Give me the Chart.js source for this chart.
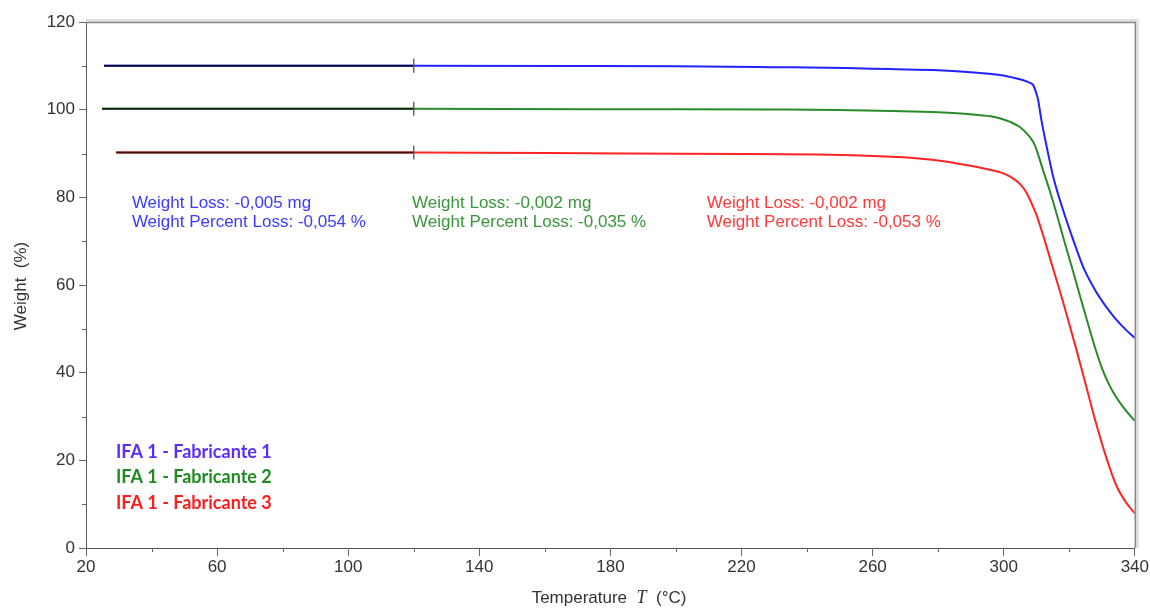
<!DOCTYPE html>
<html><head><meta charset="utf-8">
<script src="https://cdn.jsdelivr.net/npm/chart.js@4.4.1/dist/chart.umd.min.js"></script>
<style>html,body{margin:0;padding:0;background:#fff}</style>
</head><body>
<canvas id="c" width="1150" height="608"></canvas>
<script>
// ---- data ----
const tempBlue   = [25.5, 60, 120, 172, 200, 229, 252, 265, 280, 289, 299, 304, 306, 308, 309, 310, 310.5, 311.5, 313.1, 315.1, 318.1, 321.2, 324.2, 328, 331, 334, 337, 340];
const weightBlue = [110.0, 110.0, 110.0, 109.95, 109.9, 109.7, 109.5, 109.25, 109.0, 108.6, 107.9, 107.1, 106.7, 106.1, 105.6, 103.6, 102.2, 97.6, 91.6, 84.7, 77.1, 70.3, 64.2, 58.7, 55.3, 52.4, 50.0, 47.9];

const tempGreen   = [24.9, 60, 120, 174, 200, 230, 249.5, 266, 280, 289, 296, 299, 302, 305, 307, 309, 310, 312, 314, 316, 318, 320, 322, 324, 326, 328, 330, 332, 334, 336, 338, 340];
const weightGreen = [100.2, 100.2, 100.2, 100.1, 100.1, 100.05, 99.95, 99.7, 99.4, 99.0, 98.5, 98.0, 97.2, 96.0, 94.6, 92.6, 90.9, 86.2, 81.6, 76.6, 71.3, 66.1, 60.9, 55.6, 50.4, 45.4, 41.0, 37.5, 34.8, 32.6, 30.7, 29.0];

const tempRed   = [29.2, 60, 120, 185, 222, 243, 254, 260, 268, 280, 289, 295, 299, 302, 305, 307, 309, 310, 312, 315, 318, 320, 322.2, 325.3, 328.3, 331.4, 334.4, 337.5, 340];
const weightRed = [90.25, 90.25, 90.25, 90.0, 89.9, 89.75, 89.6, 89.45, 89.2, 88.4, 87.3, 86.4, 85.7, 84.7, 83.0, 81.0, 77.8, 76.0, 71.4, 63.9, 56.4, 51.1, 45.2, 36.5, 28.1, 20.4, 14.2, 10.2, 7.9];

const selectEnd = 120;   // end of the analysed (black) segment
const xTicks = [20, 60, 100, 140, 180, 220, 260, 300, 340];
const yTicks = [0, 20, 40, 60, 80, 100, 120];

const seriesNames  = ['IFA 1 - Fabricante 1', 'IFA 1 - Fabricante 2', 'IFA 1 - Fabricante 3'];
const lossLines    = ['Weight Loss: -0,005 mg', 'Weight Loss: -0,002 mg', 'Weight Loss: -0,002 mg'];
const percentLines = ['Weight Percent Loss: -0,054 %', 'Weight Percent Loss: -0,035 %', 'Weight Percent Loss: -0,053 %'];
const noteX = [34, 119.5, 209.4];      // temperature where each note starts
const noteY = [78.7, 74.4];            // weight levels of the two note lines

// ---- styles ----
const lineColors  = ['#2222ff', '#2a8a2a', '#ff2424'];
const noteColors  = ['#3b3bff', '#3a963a', '#ff3a3a'];
const nameColors  = ['#5a2cff', '#1f8a1f', '#ff1c1c'];

const series = [[tempBlue, weightBlue], [tempGreen, weightGreen], [tempRed, weightRed]];
const pts = (t, w) => t.map((x, i) => ({x, y: w[i]}));

const datasets = [];
series.forEach(([t, w], i) => {
  datasets.push({data: pts(t, w), borderColor: lineColors[i], borderWidth: 2, pointRadius: 0,
    showLine: true, cubicInterpolationMode: 'monotone', order: 3});
});
series.forEach(([t, w], i) => {
  const seg = pts(t, w).filter(p => p.x <= selectEnd);
  datasets.push({data: seg, borderColor: 'rgba(0,0,0,0.72)', borderWidth: 2, pointRadius: 0,
    showLine: true, order: 2});
  const end = seg[seg.length - 1];
  datasets.push({data: [end], showLine: false, pointStyle: 'line', rotation: 90, pointRadius: 7,
    borderColor: '#555', borderWidth: 1.3, backgroundColor: '#555', order: 1});
});

const FONT = '"Liberation Sans", Arial, sans-serif';

const decor = {
  id: 'decor',
  afterDraw(chart) {
    const {ctx, chartArea: a, scales: {x, y}} = chart;
    ctx.save();
    // frame top/right (grey shaded)
    ctx.strokeStyle = '#e0e0e0'; ctx.lineWidth = 4;
    ctx.beginPath(); ctx.moveTo(a.left, a.top - 1); ctx.lineTo(a.right + 2, a.top - 1); ctx.lineTo(a.right + 2, a.bottom); ctx.stroke();
    ctx.strokeStyle = '#8a8a8a'; ctx.lineWidth = 1.5;
    ctx.beginPath(); ctx.moveTo(a.left, a.top + 0.5); ctx.lineTo(a.right + 0.5, a.top + 0.5); ctx.lineTo(a.right + 0.5, a.bottom); ctx.stroke();
    // minor ticks
    ctx.strokeStyle = '#666'; ctx.lineWidth = 1;
    for (let v = 40; v < 340; v += 40) {
      const px = Math.round(x.getPixelForValue(v)) + 0.5;
      ctx.beginPath(); ctx.moveTo(px, a.bottom); ctx.lineTo(px, a.bottom + 4); ctx.stroke();
    }
    for (let v = 10; v < 120; v += 20) {
      const py = Math.round(y.getPixelForValue(v)) + 0.5;
      ctx.beginPath(); ctx.moveTo(a.left - 4, py); ctx.lineTo(a.left, py); ctx.stroke();
    }
    // notes
    ctx.font = '17px ' + FONT; ctx.textBaseline = 'middle'; ctx.textAlign = 'left';
    for (let i = 0; i < 3; i++) {
      ctx.fillStyle = noteColors[i];
      ctx.fillText(lossLines[i], x.getPixelForValue(noteX[i]), y.getPixelForValue(noteY[0]));
      ctx.fillText(percentLines[i], x.getPixelForValue(noteX[i]), y.getPixelForValue(noteY[1]));
    }
    // series names
    ctx.font = 'bold 18px Lato, "Open Sans", sans-serif';
    for (let i = 0; i < 3; i++) {
      ctx.fillStyle = nameColors[i];
      ctx.fillText(seriesNames[i], 116, 452 + i * 25.5);
    }
    // axis titles
    ctx.fillStyle = '#333';
    ctx.font = '17px ' + FONT;
    ctx.save(); ctx.translate(21, 286); ctx.rotate(-Math.PI / 2); ctx.textAlign = 'center';
    ctx.fillText('Weight  (%)', 0, 0); ctx.restore();
    const parts = [['Temperature  ', '17px ' + FONT], ['T', 'italic 18px "Liberation Serif", serif'], ['  (°C)', '17px ' + FONT]];
    let total = 0;
    parts.forEach(p => { ctx.font = p[1]; total += ctx.measureText(p[0]).width; });
    let cx = 609 - total / 2;
    ctx.textAlign = 'left';
    parts.forEach(p => { ctx.font = p[1]; ctx.fillText(p[0], cx, 598); cx += ctx.measureText(p[0]).width; });
    ctx.restore();
  }
};

new Chart(document.getElementById('c'), {
  type: 'scatter',
  data: {datasets},
  options: {
    responsive: false, animation: false, devicePixelRatio: 1,
    layout: {padding: {top: 22, right: 15, left: 0, bottom: 0}},
    plugins: {legend: {display: false}, tooltip: {enabled: false}},
    scales: {
      x: {type: 'linear', min: xTicks[0], max: xTicks[xTicks.length - 1],
        afterBuildTicks: s => { s.ticks = xTicks.map(v => ({value: v})); },
        afterFit: s => { s.height = 60; },
        ticks: {color: '#333', font: {family: FONT, size: 17}, padding: 1, maxRotation: 0},
        grid: {drawOnChartArea: false, tickLength: 8, tickColor: '#666'},
        border: {color: '#555', width: 1}},
      y: {min: yTicks[0], max: yTicks[yTicks.length - 1],
        afterBuildTicks: s => { s.ticks = yTicks.map(v => ({value: v})); },
        afterFit: s => { s.width = 86; },
        ticks: {color: '#333', font: {family: FONT, size: 17}, padding: 4},
        grid: {drawOnChartArea: false, tickLength: 7, tickColor: '#666'},
        border: {color: '#555', width: 1}}
    }
  },
  plugins: [decor]
});
</script>
</body></html>
